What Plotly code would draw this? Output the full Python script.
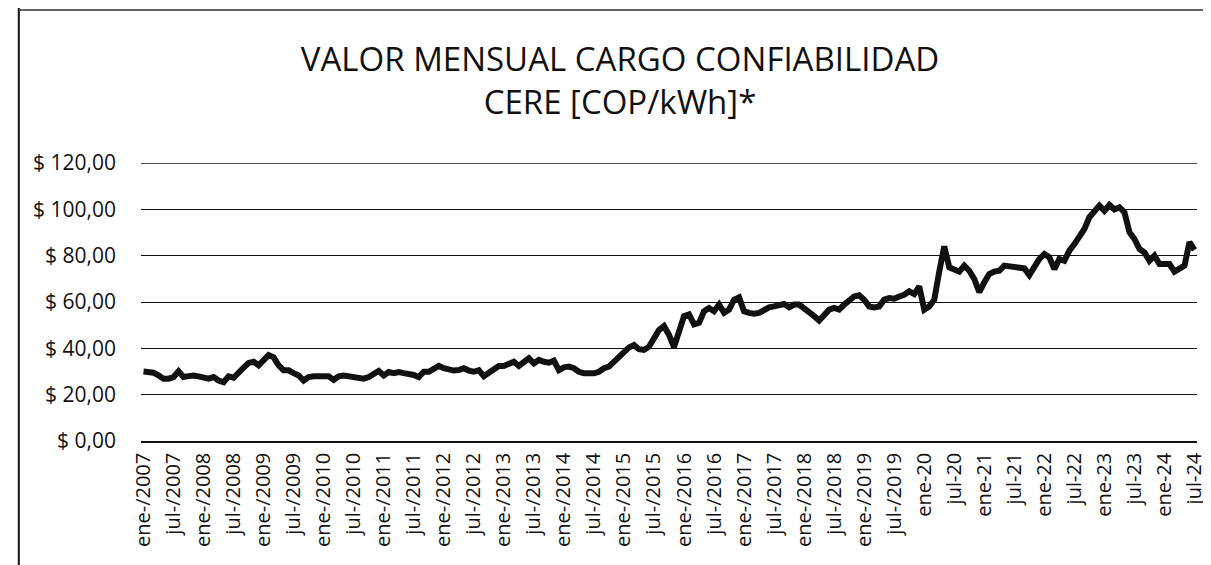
import plotly.graph_objects as go

# ---- data ----
start_year = 2007
months = [f"{start_year + k // 12}-{k % 12 + 1:02d}" for k in range(211)]  # ene-2007 .. jul-2024

values = [
    30.0, 29.8, 29.5, 28.3, 26.9, 26.9, 27.6, 30.1, 27.6, 28.0, 28.3, 27.9,   # 2007
    27.1, 26.9, 27.6, 26.1, 25.4, 27.9, 27.3, 29.8, 31.7, 33.7, 34.2, 32.7,   # 2008
    35.2, 37.1, 36.1, 32.7, 30.5, 30.5, 29.3, 28.3, 26.1, 27.6, 27.9, 27.9,   # 2009
    28.3, 27.9, 26.4, 27.9, 28.3, 27.9, 27.3, 26.9, 26.9, 27.6, 29.0, 30.2,   # 2010
    28.3, 29.8, 29.3, 29.8, 29.3, 29.0, 28.5, 27.6, 29.9, 29.9, 30.9, 32.4,   # 2011
    31.4, 30.6, 30.4, 30.6, 31.4, 30.4, 29.9, 30.6, 28.0, 29.5, 30.6, 32.4,   # 2012
    32.4, 33.5, 34.2, 32.4, 34.2, 35.7, 33.5, 35.0, 34.2, 33.8, 34.7, 30.6,   # 2013
    31.8, 32.1, 31.4, 29.9, 29.2, 29.2, 29.2, 29.9, 31.4, 32.1, 34.2, 36.7,   # 2014
    38.6, 40.4, 41.4, 39.6, 39.3, 40.7, 44.3, 47.9, 49.6, 45.8, 40.5, 47.4,   # 2015
    53.9, 54.6, 50.3, 51.0, 56.0, 57.4, 56.0, 58.9, 55.3, 56.7, 61.0, 62.0,   # 2016
    56.0, 55.3, 54.9, 55.3, 56.7, 57.7, 58.1, 58.9, 59.1, 57.7, 58.9, 58.9,   # 2017
    57.4, 55.3, 53.9, 52.0, 54.6, 56.7, 57.4, 56.7, 58.9, 60.6, 62.4, 62.9,   # 2018
    61.0, 58.1, 57.7, 58.1, 61.0, 61.7, 61.4, 62.4, 63.1, 64.6, 63.4, 66.7,   # 2019
    56.7, 58.1, 61.0, 73.2, 84.0, 75.0, 74.2, 73.1, 75.7, 73.5, 69.9, 64.2,   # 2020
    68.5, 72.1, 73.1, 73.5, 75.7, 75.4, 75.0, 75.0, 74.5, 71.6, 75.0, 78.6,   # 2021
    80.7, 79.3, 74.2, 78.6, 77.8, 82.2, 85.0, 87.9, 91.5, 96.6, 99.0, 101.6,  # 2022
    99.4, 101.9, 99.9, 100.9, 98.7, 90.1, 87.2, 82.9, 81.4, 77.8, 80.0, 76.4, # 2023
    76.4, 76.4, 73.1, 74.2, 75.7, 85.8, 82.5,                                 # 2024
]

tick_labels = [
    "ene-/2007", "jul-/2007", "ene-/2008", "jul-/2008", "ene-/2009", "jul-/2009",
    "ene-/2010", "jul-/2010", "ene-/2011", "jul-/2011", "ene-/2012", "jul-/2012",
    "ene-/2013", "jul-/2013", "ene-/2014", "jul-/2014", "ene-/2015", "jul-/2015",
    "ene-/2016", "jul-/2016", "ene-/2017", "jul-/2017", "ene-/2018", "jul-/2018",
    "ene-/2019", "jul-/2019", "ene-20", "jul-20", "ene-21", "jul-21",
    "ene-22", "jul-22", "ene-23", "jul-23", "ene-24", "jul-24",
]
tick_positions = months[::6]

y_ticks = [0, 20, 40, 60, 80, 100, 120]
y_tick_labels = ["$ 0,00", "$ 20,00", "$ 40,00", "$ 60,00", "$ 80,00", "$ 100,00", "$ 120,00"]

title_text = "VALOR MENSUAL CARGO CONFIABILIDAD<br>CERE [COP/kWh]*"

# ---- layout constants (pixels) ----
W, H = 1211, 565
L, R, T, B = 133, 15, 155, 132
FONT = "Open Sans, Noto Sans, DejaVu Sans, sans-serif"

fig = go.Figure()
fig.add_trace(go.Scatter(
    x=months, y=values, mode="lines",
    line=dict(color="#111111", width=6),
    showlegend=False, hoverinfo="skip",
))

plot_w = W - L - R
plot_h = H - T - B
def px_x(px):
    return (px - L) / plot_w
def px_y(py):
    return (H - B - py) / plot_h

fig.update_layout(
    width=W, height=H,
    margin=dict(l=L, r=R, t=T, b=B),
    paper_bgcolor="white", plot_bgcolor="white",
    font=dict(family=FONT, color="#111111"),
    title=dict(
        text=title_text, x=612 / W, xanchor="center",
        y=1 - 63 / H, yanchor="top",
        font=dict(size=33, family=FONT, color="#111111"),
    ),
    xaxis=dict(
        type="category", range=[-0.5, len(months) - 0.5],
        tickmode="array", tickvals=tick_positions, ticktext=tick_labels,
        tickangle=-90, tickfont=dict(size=20, family=FONT, color="#111111"),
        showgrid=False, showline=True, linecolor="#111111", linewidth=1.5,
        ticks="", ticklabelstandoff=2, zeroline=False,
    ),
    yaxis=dict(
        range=[0, 120], tickmode="array", tickvals=y_ticks, ticktext=y_tick_labels,
        tickfont=dict(size=21, family=FONT, color="#111111"),
        showgrid=True, gridcolor="#111111", gridwidth=1.3,
        showline=False, zeroline=False, ticks="", ticklabelstandoff=24,
    ),
    shapes=[
        dict(type="line", xref="paper", yref="y",
             x0=0, x1=1, y0=y_ticks[-1], y1=y_ticks[-1],
             line=dict(color="#111111", width=1.3)),
        dict(type="line", xref="paper", yref="paper",
             x0=px_x(10), x1=px_x(10), y0=px_y(0), y1=px_y(H),
             line=dict(color="#111111", width=2)),
        dict(type="line", xref="paper", yref="paper",
             x0=px_x(10), x1=px_x(W), y0=px_y(2), y1=px_y(2),
             line=dict(color="#333333", width=1.5)),
    ],
)

fig.write_html("out.html")
